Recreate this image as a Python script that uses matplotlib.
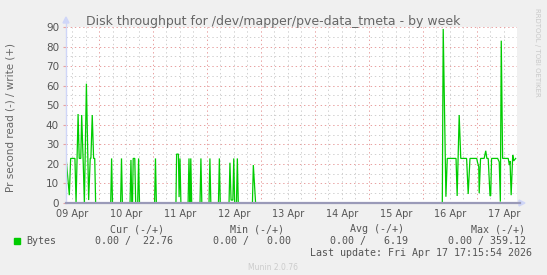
import matplotlib
matplotlib.use("Agg")
import matplotlib.pyplot as plt

# hours since 09 Apr 00:00, bytes written per second (read side is all zero)
hours = [
    9.3, 10.8, 11.4, 13.3, 13.8, 14.7, 15.2, 15.9, 16.3, 17.0, 17.5, 18.4, 19.4,
    20.1, 20.4, 21.0, 21.6, 22.1, 22.5,
    29.2, 29.6, 30.0,
    33.6, 34.0, 34.4,
    37.8, 38.2, 38.6,
    38.9, 39.2, 39.9, 40.3,
    41.2, 41.6, 42.0,
    48.7, 49.1, 49.5,
    58.2, 58.5, 59.3, 59.6, 60.0, 60.4,
    63.6, 64.0, 64.4, 64.5, 64.8, 65.2,
    68.9, 69.3, 69.7,
    72.9, 73.3, 73.7,
    77.1, 77.5, 77.9,
    81.8, 82.2, 82.7, 83.5, 83.9, 84.3,
    85.1, 85.5, 85.9,
    92.2, 92.6, 93.6,
    176.6, 177.0, 178.2, 178.8, 182.7, 183.2, 184.1, 184.8, 187.4, 188.1,
    188.9, 191.9, 192.2, 192.8, 193.0, 193.6, 195.2, 195.9, 196.4, 197.0,
    197.8, 198.1, 198.5, 201.2, 201.9, 202.4, 202.8, 203.4, 205.9, 206.4,
    206.7, 207.2, 207.9, 208.3, 209.2,
]
write = [
    24, 4, 22.8, 22.8, 0, 45.5, 22.8, 22.8, 45, 20, 0, 61, 1.5,
    22.8, 22.8, 45, 22.8, 22.8, 0,
    0, 22.8, 0,
    0, 22.8, 0,
    0, 22, 0,
    0, 22.8, 22.8, 0,
    0, 22.8, 0,
    0, 22.8, 0,
    0, 25, 25, 3, 22.8, 0,
    0, 22.8, 0, 0, 22.8, 0,
    0, 22.8, 0,
    0, 22.8, 0,
    0, 22.8, 0,
    0, 20.6, 1.5, 1.5, 22.8, 0,
    0, 22.8, 0,
    0, 19.4, 0,
    0, 89, 3.2, 22.8, 22.8, 3.6, 45, 22.8, 22.8, 4.6,
    22.8, 22.8, 21, 18.6, 5, 22.8, 22.8, 26.7, 22.8, 22.8,
    3.7, 3.7, 22.8, 22.8, 21, 0.7, 83, 22.8, 22.8, 19.4,
    21.5, 4, 24.5, 21.5, 22.8,
]

day_labels = ["09 Apr", "10 Apr", "11 Apr", "12 Apr", "13 Apr",
              "14 Apr", "15 Apr", "16 Apr", "17 Apr"]
y_ticks = [0, 10, 20, 30, 40, 50, 60, 70, 80, 90]

col_heads = ["Cur (-/+)", "Min (-/+)", "Avg (-/+)", "Max (-/+)"]
col_vals = ["0.00 /  22.76", "0.00 /   0.00", "0.00 /   6.19", "0.00 / 359.12"]

W, H = 547, 275
plt.rcParams['lines.scale_dashes'] = False
fig = plt.figure(figsize=(W / 100, H / 100), dpi=100, facecolor="#F0F0F0")

def fx(px):
    return px / W

def fy(py):
    return 1 - py / H

ax = fig.add_axes([fx(66), fy(203), fx(517) - fx(66), fy(27) - fy(203)])
ax.set_facecolor("white")
ax.set_xlim(9.33, 209.8)
ax.set_ylim(0, 90)

# grid: gray every 6h / 5 units, red every day / 10 units
dot = (0, (1, 2))
for k in range(0, 36):
    h = k * 6
    if h < 9.33 or h > 209.8:
        continue
    c = "#E8A0A0" if h % 24 == 0 else "#D0D0D0"
    ax.axvline(h, color=c, lw=0.7, ls=dot, zorder=1)
for v in range(5, 95, 5):
    c = "#E8A0A0" if v % 10 == 0 else "#D0D0D0"
    ax.axhline(v, color=c, lw=0.7, ls=dot, zorder=1)

ax.plot(hours, write, color="#00CC00", lw=0.9, zorder=3, solid_joinstyle="miter")

for s in ax.spines.values():
    s.set_visible(False)

ax.set_xticks([12 + 24 * i for i in range(len(day_labels))])
ax.set_xticklabels(day_labels)
ax.set_yticks(y_ticks)
ax.tick_params(axis="x", length=0, pad=4, labelsize=7, labelcolor="#555555")
ax.tick_params(axis="y", length=2, color="#E8A0A0", pad=3, labelsize=7.5, labelcolor="#555555")

# axis lines with arrows
fig.add_artist(plt.Line2D([fx(66), fx(66)], [fy(203), fy(22)], color="#CFD6F8", lw=1))
fig.add_artist(plt.Line2D([fx(66), fx(520)], [fy(203), fy(203)], color="#9A9AB8", lw=1.6,
                          zorder=5))
fig.add_artist(plt.Polygon([[fx(63), fy(23)], [fx(69), fy(23)], [fx(66), fy(17)]],
                           closed=True, color="#CFD6F8", transform=fig.transFigure))
fig.add_artist(plt.Polygon([[fx(519), fy(200)], [fx(519), fy(206)], [fx(525), fy(203)]],
                           closed=True, color="#CFD6F8", transform=fig.transFigure))

fig.text(fx(273), fy(25), "Disk throughput for /dev/mapper/pve-data_tmeta - by week",
         ha="center", va="baseline", fontsize=9, color="#666666")
fig.text(fx(11), fy(118), "Pr second read (-) / write (+)", rotation=90,
         ha="center", va="center", fontsize=7.5, color="#666666")
fig.text(fx(537), fy(52), "RRDTOOL / TOBI OETIKER", rotation=270,
         ha="center", va="center", fontsize=5, color="#C8C8C8")

mono = "DejaVu Sans Mono"
head_right = [164, 284, 404, 525]
val_right = [173, 291, 408, 526]
for i in range(4):
    fig.text(fx(head_right[i]), fy(229), col_heads[i], ha="right", va="center",
             fontsize=7.2, family=mono, color="#555555")
    fig.text(fx(val_right[i]), fy(241), col_vals[i], ha="right", va="center",
             fontsize=7.2, family=mono, color="#555555")
fig.add_artist(plt.Rectangle((fx(14), fy(244)), fx(6), fy(238) - fy(244),
                             color="#00CC00", transform=fig.transFigure))
fig.text(fx(26), fy(241), "Bytes", ha="left", va="center",
         fontsize=7.2, family=mono, color="#555555")
fig.text(fx(532), fy(253.5), "Last update: Fri Apr 17 17:15:54 2026", ha="right",
         va="center", fontsize=7.2, family=mono, color="#555555")
fig.text(fx(273), fy(267), "Munin 2.0.76", ha="center", va="center",
         fontsize=5.5, color="#CCCCCC")

fig.savefig("out.png", dpi=100, facecolor=fig.get_facecolor())
